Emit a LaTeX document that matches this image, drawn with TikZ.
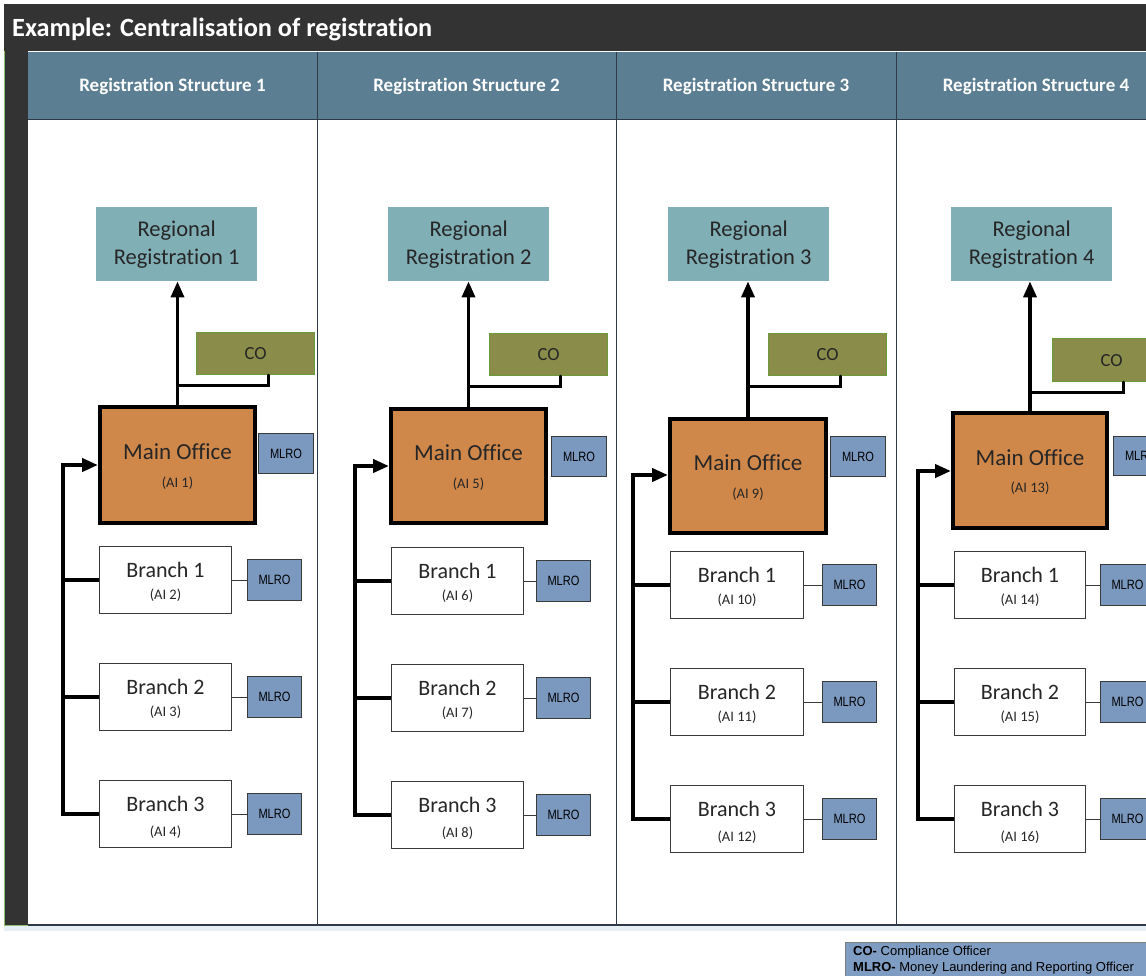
\documentclass[tikz,border=0pt]{standalone}
\usepackage{graphicx}
\usepackage{fontspec}
\setmainfont{Carlito}[Ligatures={NoCommon}]
\newfontfamily\arialf{Liberation Sans}
\usetikzlibrary{arrows.meta}
\definecolor{titlebg}{HTML}{333333}
\definecolor{headbg}{HTML}{5B7E93}
\definecolor{regbg}{HTML}{80AFB6}
\definecolor{cobg}{HTML}{8A8C4A}
\definecolor{coedge}{HTML}{6B9A3A}
\definecolor{mainbg}{HTML}{D0884A}
\definecolor{mlrobg}{HTML}{7B98BF}
\definecolor{legbg}{HTML}{7F9DC3}
\definecolor{divline}{HTML}{2E3B47}
\definecolor{boxline}{HTML}{3A3A3A}
\definecolor{txt}{HTML}{262626}
\definecolor{stripedge}{HTML}{8FBF70}
\definecolor{shadowc}{HTML}{E6EEF6}
\newcommand\mlrotext{\scalebox{0.82}[1]{MLRO}}
\begin{document}
\begin{tikzpicture}[x=1pt,y=-1pt,
  regbox/.style={fill=regbg, anchor=north west, inner sep=0pt, text=txt, align=center, font=\fontsize{22.5}{28}\selectfont},
  cobox/.style={fill=cobg, draw=coedge, line width=1.2pt, anchor=north west, inner sep=0pt, text=txt, font=\fontsize{18.5}{20}\selectfont},
  mainbox/.style={fill=mainbg, draw=black, line width=4pt, anchor=north west, inner sep=0pt},
  branchbox/.style={fill=white, draw=boxline, line width=1pt, anchor=north west, inner sep=0pt},
  mlrobox/.style={fill=mlrobg, draw=boxline, line width=1pt, anchor=north west, inner sep=0pt, text=black, font=\arialf\fontsize{13.5}{14}\selectfont},
  bigtxt/.style={text=txt, inner sep=0pt, font=\fontsize{23}{24}\selectfont},
  smalltxt/.style={text=txt, inner sep=0pt, font=\fontsize{14.5}{16}\selectfont},
  headtxt/.style={text=white, inner sep=0pt, font=\fontsize{19}{21}\selectfont\bfseries},
  thickline/.style={line width=4pt, draw=black},
  arrowline/.style={line width=3.5pt, draw=black, -{Triangle[length=16pt,width=13pt]}},
  colink/.style={line width=3pt, draw=black, line cap=round},
  thinlink/.style={line width=1pt, draw=boxline},
  divider/.style={draw=divline, line width=1pt},
  legtxt/.style={anchor=base west, inner sep=0pt, text=black, font=\arialf\fontsize{13}{15}\selectfont}
]
\useasboundingbox (0,0) rectangle (1146,975);
\clip (0,0) rectangle (1146,975);
\fill[white] (0,0) rectangle (1146,975);
% title bar
\fill[titlebg] (4,4) rectangle (1146,51);
\node[anchor=base west, inner sep=0pt, text=white, font=\fontsize{26.3}{28}\selectfont\bfseries] (title) at (12,36) {Example: Centralisation of registration};
% left strip
\fill[titlebg] (4,51) rectangle (28,925);
\draw[stripedge, line width=0.8pt] (4.4,51) -- (4.4,925.4) -- (28,925.4);
% header row
\fill[headbg] (28,52) rectangle (1146,119);
\draw[divider] (28,119) -- (1146,119);
\fill[shadowc] (4,926) rectangle (1146,931);
\draw[divider, line width=1.3pt] (28,925) -- (1146,925);
\foreach \x in {317,616,896} { \draw[divider] (\x,52) -- (\x,925); }
\foreach \i/\cx in {1/172.5,2/466.5,3/756,4/1036} {
  \node[headtxt] (head\i) at (\cx,86) {Registration Structure \i};
}
% structures
\foreach \i/\rl/\rr/\cl/\ct/\cb/\hy/\hx/\ml/\mr/\mt/\mb/\mml/\mmt/\mmb/\bx/\ay/\bl/\br/\bt/\bml in {
  1/96/257/196/332/375/385/268/98/257/405/525/258/433/474/63/465/99/232/546/247,
  2/388/549/489/333/376/386/560/389/548/407/525/551/436/477/355/466/391/524/547/536,
  3/668/829/768/333/376/386/840/668/828/417/535/830/436/477/633/475/670/804/551/822,
  4/951/1112/1052/338/382/392/1123/951/1109/411/530/1113/436/476/918/471/954/1086/551/1100} {
  \pgfmathsetmacro\rw{\rr-\rl}
  \pgfmathsetmacro\ch{\cb-\ct-1}
  \pgfmathsetmacro\mw{\mr-\ml-4}
  \pgfmathsetmacro\mh{\mb-\mt-4}
  \pgfmathsetmacro\mmh{\mmb-\mmt-1}
  \pgfmathsetmacro\bw{\br-\bl-1}
  \pgfmathsetmacro\mcx{(\ml+\mr)/2}
  \pgfmathsetmacro\mcy{(\mt+\mb)/2}
  \pgfmathsetmacro\bcx{(\bl+\br)/2}
  \pgfmathtruncatemacro\ai{4*(\i-1)+1}
  \node[regbox, minimum width=\rw pt, minimum height=74pt] (reg\i) at (\rl,207) {Regional\\Registration \i};
  \node[cobox, minimum width=118pt, minimum height=\ch pt] (co\i) at (\cl,\ct) {CO};
  \node[mainbox, minimum width=\mw pt, minimum height=\mh pt] (main\i) at (\ml,\mt) {};
  \node[bigtxt] (mainA\i) at (\mcx,\mcy-13) {Main Office};
  \node[smalltxt] (mainB\i) at (\mcx,\mcy+18) {(AI \ai)};
  \node[mlrobox, minimum width=55pt, minimum height=\mmh pt] (mm\i) at (\mml,\mmt) {\mlrotext};
  \draw[arrowline] (main\i.north) -- (main\i.north |- reg\i.south);
  \coordinate (j\i) at (\mcx,\hy);
  \coordinate (ct\i) at (\hx,\cb);
  \draw[colink] (j\i) -| (ct\i);
  \foreach \j in {1,2,3} {
    \pgfmathsetmacro\by{\bt+(\j-1)*117}
    \pgfmathtruncatemacro\bai{\ai+\j}
    \pgfmathsetmacro\aoff{\j==3 ? 52 : 49}
    \node[branchbox, minimum width=\bw pt, minimum height=67pt] (b\j\i) at (\bl,\by) {};
    \node[bigtxt, font=\fontsize{22}{24}\selectfont] (bA\j\i) at (\bcx,\by+24) {Branch \j};
    \node[smalltxt] (bB\j\i) at (\bcx,\by+\aoff) {(AI \bai)};
    \node[mlrobox, minimum width=54pt, minimum height=41pt] (bm\j\i) at (\bml,\by+13) {\mlrotext};
    \draw[thinlink] (b\j\i.east) -- (bm\j\i.west);
  }
  \coordinate (bus\i) at (\bx,\ay);
  \draw[thickline] (b1\i.west) -- (b1\i.west -| bus\i);
  \draw[thickline] (b2\i.west) -- (b2\i.west -| bus\i);
  \draw[arrowline, line width=4pt] (b3\i.west) -| (bus\i) -- (bus\i -| main\i.west);
}
% legend
\node[draw=gray, line width=1pt, fill=legbg, anchor=north west, minimum width=320pt, minimum height=40pt, inner sep=0pt] (legend) at (845,942) {};
\node[legtxt] (leg1) at (853,955) {\textbf{CO-} Compliance Officer};
\node[legtxt] (leg2) at (853,971) {\textbf{MLRO-} Money Laundering and Reporting Officer};
\end{tikzpicture}
\end{document}
